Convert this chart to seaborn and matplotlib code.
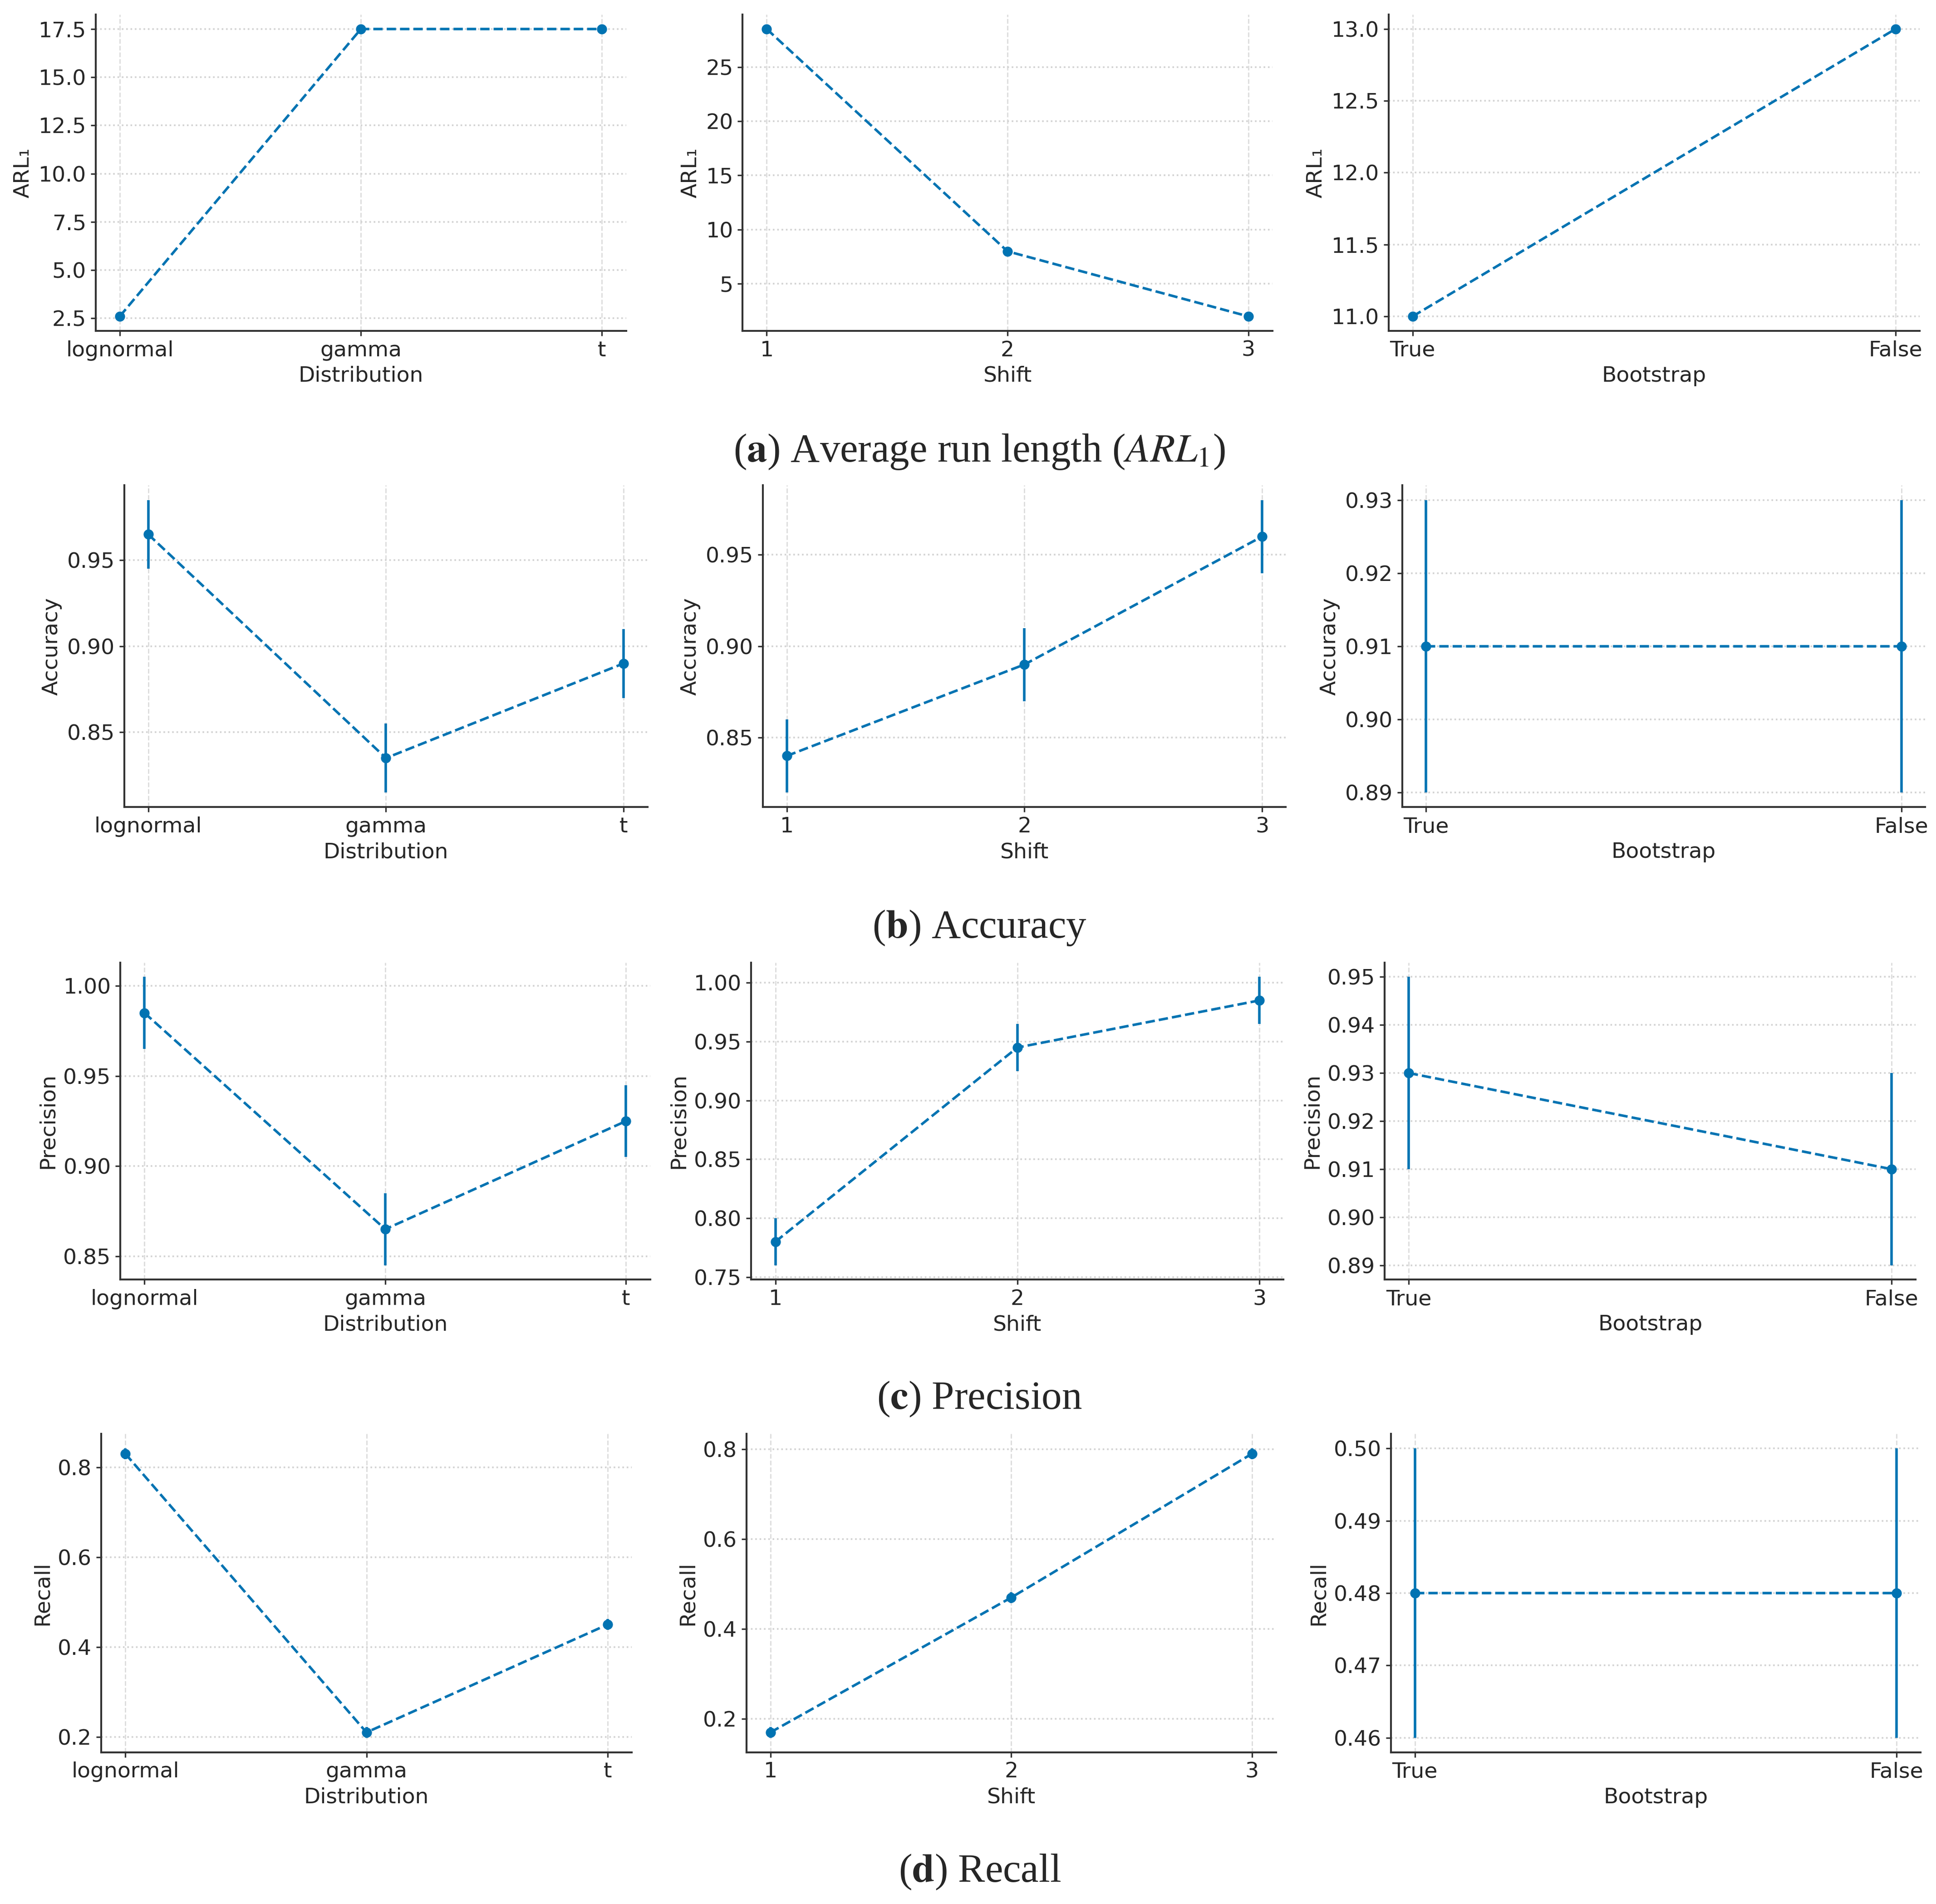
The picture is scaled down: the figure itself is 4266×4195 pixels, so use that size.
import seaborn as sns
import matplotlib.pyplot as plt

# Data
dist_labels = ['lognormal', 'gamma', 't']
shift_labels = [1, 2, 3]
boot_labels = ['True', 'False']

arl_dist = [2.6, 17.5, 17.5]
arl_shift = [28.5, 8.0, 2.0]
arl_boot = [11.0, 13.0]

acc_dist = [0.965, 0.835, 0.89]
acc_dist_err = [0.02, 0.02, 0.02]
acc_shift = [0.84, 0.89, 0.96]
acc_shift_err = [0.02, 0.02, 0.02]
acc_boot = [0.91, 0.91]
acc_boot_err = [0.02, 0.02]

prec_dist = [0.985, 0.865, 0.925]
prec_dist_err = [0.02, 0.02, 0.02]
prec_shift = [0.78, 0.945, 0.985]
prec_shift_err = [0.02, 0.02, 0.02]
prec_boot = [0.93, 0.91]
prec_boot_err = [0.02, 0.02]

rec_dist = [0.83, 0.21, 0.45]
rec_dist_err = [0.012, 0.012, 0.012]
rec_shift = [0.17, 0.47, 0.79]
rec_shift_err = [0.012, 0.012, 0.012]
rec_boot = [0.48, 0.48]
rec_boot_err = [0.02, 0.02]

captions = [
    r'($\mathbf{a}$) Average run length ($ARL_1$)',
    r'($\mathbf{b}$) Accuracy',
    r'($\mathbf{c}$) Precision',
    r'($\mathbf{d}$) Recall',
]

# Settings
sns.set_theme(style="ticks")
plt.rcParams['font.family'] = ['DejaVu Sans']
plt.rcParams['mathtext.fontset'] = 'stix'
plt.rcParams['axes.edgecolor'] = '#333333'
plt.rcParams['axes.linewidth'] = 1.5

COLOR = '#0173b2'
FS = 17

boxes = [
    [[0.0494, 0.8263, 0.274, 0.166], [0.3836, 0.8263, 0.2736, 0.166], [0.7172, 0.8263, 0.2743, 0.166]],
    [[0.0643, 0.5761, 0.2701, 0.169], [0.3941, 0.5761, 0.2701, 0.169], [0.7243, 0.5761, 0.2701, 0.169]],
    [[0.0622, 0.3279, 0.2736, 0.1666], [0.3880, 0.3279, 0.2750, 0.1666], [0.7152, 0.3279, 0.2743, 0.1666]],
    [[0.0523, 0.0797, 0.274, 0.1672], [0.3855, 0.0797, 0.2736, 0.1672], [0.7184, 0.0797, 0.2736, 0.1672]],
]
caption_y = [0.7628, 0.5126, 0.2651, 0.0168]


def draw_panel(ax, x, y, err, xlabel, ylabel):
    sns.lineplot(x=x, y=y, ax=ax, color=COLOR, linestyle='--', linewidth=2.0,
                 marker='o', markersize=8, markeredgewidth=0, sort=False)
    if err is not None:
        ax.errorbar(x, y, yerr=err, fmt='none', ecolor=COLOR, elinewidth=2.0, capsize=0)
    ax.grid(axis='x', linestyle='--', color='#dcdcdc', linewidth=1.0)
    ax.grid(axis='y', linestyle=':', color='#d2d2d2', linewidth=1.3)
    ax.set_axisbelow(True)
    sns.despine(ax=ax)
    ax.set_xlabel(xlabel, fontsize=FS)
    ax.set_ylabel(ylabel, fontsize=FS)
    ax.tick_params(labelsize=FS, length=4, width=1.2, color='#333333')
    if isinstance(x[0], int):
        ax.set_xticks(x)


fig = plt.figure(figsize=(21.33, 20.975))

rows = [
    ('ARL\u2081', [(arl_dist, None), (arl_shift, None), (arl_boot, None)]),
    ('Accuracy', [(acc_dist, acc_dist_err), (acc_shift, acc_shift_err), (acc_boot, acc_boot_err)]),
    ('Precision', [(prec_dist, prec_dist_err), (prec_shift, prec_shift_err), (prec_boot, prec_boot_err)]),
    ('Recall', [(rec_dist, rec_dist_err), (rec_shift, rec_shift_err), (rec_boot, rec_boot_err)]),
]
xinfo = [(dist_labels, 'Distribution'), (shift_labels, 'Shift'), (boot_labels, 'Bootstrap')]

for r, (ylabel, panels) in enumerate(rows):
    for c, (vals, errs) in enumerate(panels):
        ax = fig.add_axes(boxes[r][c])
        xs, xl = xinfo[c]
        draw_panel(ax, xs, vals, errs, xl, ylabel)
    fig.text(0.506, caption_y[r], captions[r], ha='center', va='center',
             fontsize=32, family='Liberation Serif')

fig.savefig('out.png', dpi=200, facecolor='white')
